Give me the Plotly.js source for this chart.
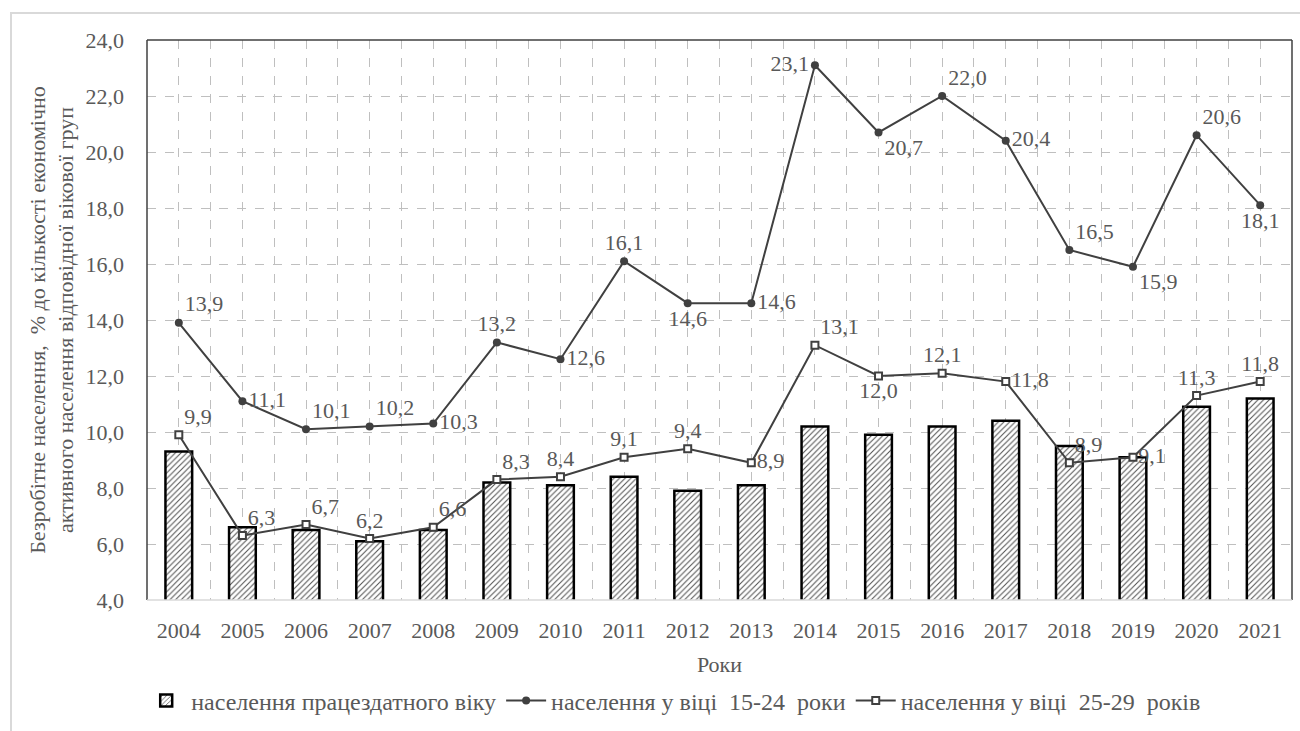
<!DOCTYPE html>
<html>
<head>
<meta charset="utf-8">
<script src="https://cdn.plot.ly/plotly-3.0.1.min.js"></script>
<style>
html,body{margin:0;padding:0;background:#fff;}
#chart{width:1300px;height:731px;}
#frame{position:absolute;left:10px;top:12px;width:1300px;height:730px;border:2px solid #d9d9d9;pointer-events:none;}
</style>
</head>
<body>
<div id="frame"></div>
<div id="chart"></div>
<script>
const years = ['2004','2005','2006','2007','2008','2009','2010','2011','2012','2013','2014','2015','2016','2017','2018','2019','2020','2021'];
const workingAge = [9.3,6.6,6.5,6.1,6.5,8.2,8.1,8.4,7.9,8.1,10.2,9.9,10.2,10.4,9.5,9.1,10.9,11.2];
const age15_24 = [13.9,11.1,10.1,10.2,10.3,13.2,12.6,16.1,14.6,14.6,23.1,20.7,22.0,20.4,16.5,15.9,20.6,18.1];
const age25_29 = [9.9,6.3,6.7,6.2,6.6,8.3,8.4,9.1,9.4,8.9,13.1,12.0,12.1,11.8,8.9,9.1,11.3,11.8];
const pos15_24 = ['top right','middle right','top right','top right','middle right','top center','middle right','top center','bottom center','middle right','middle left','bottom right','top right','middle right','top right','bottom right','top right','bottom center'];
const pos25_29 = ['top right','top right','top right','top center','top right','top right','top center','top center','top center','middle right','top right','bottom center','top center','middle right','top right','middle right','top center','top center'];
const seriesNames = ['населення працездатного віку','населення у віці  15-24  роки','населення у віці  25-29  років'];

const idx = years.map((_, i) => i);
const tickvals = [];
const ticktext = [];
years.forEach((y, i) => {
  tickvals.push(i); ticktext.push(y);
  if (i < years.length - 1) { tickvals.push(i + 0.5); ticktext.push(''); }
});

const gray = '#595959';
const lineCol = '#404040';
const font = 'Liberation Serif';
const labelFont = {family: 'Liberation Serif', size: 22, color: '#595959'};

const traces = [
  {
    type: 'bar', x: idx, y: workingAge, name: seriesNames[0], width: 0.42,
    marker: {color: 'white', line: {color: '#000', width: 2.5},
      pattern: {shape: '/', fgcolor: '#505050', bgcolor: 'white', size: 4, solidity: 0.25}},
    hoverinfo: 'y'
  },
  {
    type: 'scatter', mode: 'lines+markers+text', x: idx, y: age15_24, name: seriesNames[1],
    line: {color: lineCol, width: 2},
    marker: {symbol: 'circle', size: 8, color: lineCol},
    text: age15_24.map(v => v.toFixed(1).replace('.', ',')), textposition: pos15_24,
    textfont: labelFont
  },
  {
    type: 'scatter', mode: 'lines+markers+text', x: idx, y: age25_29, name: seriesNames[2],
    line: {color: lineCol, width: 2},
    marker: {symbol: 'square', size: 7, color: 'white', line: {color: lineCol, width: 2}},
    text: age25_29.map(v => v.toFixed(1).replace('.', ',')), textposition: pos25_29,
    textfont: labelFont
  }
];

const layout = {
  width: 1300, height: 731,
  margin: {l: 147, r: 8, t: 40, b: 131},
  paper_bgcolor: 'rgba(0,0,0,0)', plot_bgcolor: 'white',
  separators: ', ',
  font: {family: font, size: 22, color: gray},
  showlegend: true,
  legend: {orientation: 'h', x: 0.46, xanchor: 'center', y: -0.14, yanchor: 'top',
    font: {family: font, size: 24, color: gray}, traceorder: 'normal', itemwidth: 40},
  xaxis: {
    range: [-0.5, years.length - 0.5], tickvals: tickvals, ticktext: ticktext,
    showgrid: true, gridcolor: '#bfbfbf', griddash: 'dash', gridwidth: 1,
    zeroline: false, showline: false, ticks: '', ticklabelstandoff: 15,
    tickfont: {family: font, size: 22, color: gray},
    title: {text: 'Роки', font: {family: font, size: 22, color: gray}, standoff: 14}
  },
  yaxis: {
    range: [4, 24], dtick: 2, tick0: 4, tickformat: '.1f',
    showgrid: true, gridcolor: '#bfbfbf', griddash: 'dash', gridwidth: 1,
    zeroline: false, showline: false, ticks: '', ticklabelstandoff: 22,
    tickfont: {family: font, size: 22, color: gray},
    title: {text: 'Безробітне населення,  % до кількості економічно<br>активного населення відповідної вікової груп', font: {family: font, size: 22, color: gray}, standoff: 5}
  },
  shapes: [
    {type: 'line', xref: 'paper', yref: 'paper', x0: 0, x1: 1, y0: 1, y1: 1, line: {color: '#404040', width: 1.5}},
    {type: 'line', xref: 'paper', yref: 'paper', x0: 0, x1: 0, y0: 0, y1: 1, line: {color: '#404040', width: 1.5}},
    {type: 'line', xref: 'paper', yref: 'paper', x0: 1, x1: 1, y0: 0, y1: 1, line: {color: '#404040', width: 1.5}},
    {type: 'line', xref: 'paper', yref: 'paper', x0: 0, x1: 1, y0: 0, y1: 0, line: {color: '#d9d9d9', width: 1.5}}
  ]
};

Plotly.newPlot('chart', traces, layout, {displayModeBar: false, staticPlot: true});
</script>
</body>
</html>
